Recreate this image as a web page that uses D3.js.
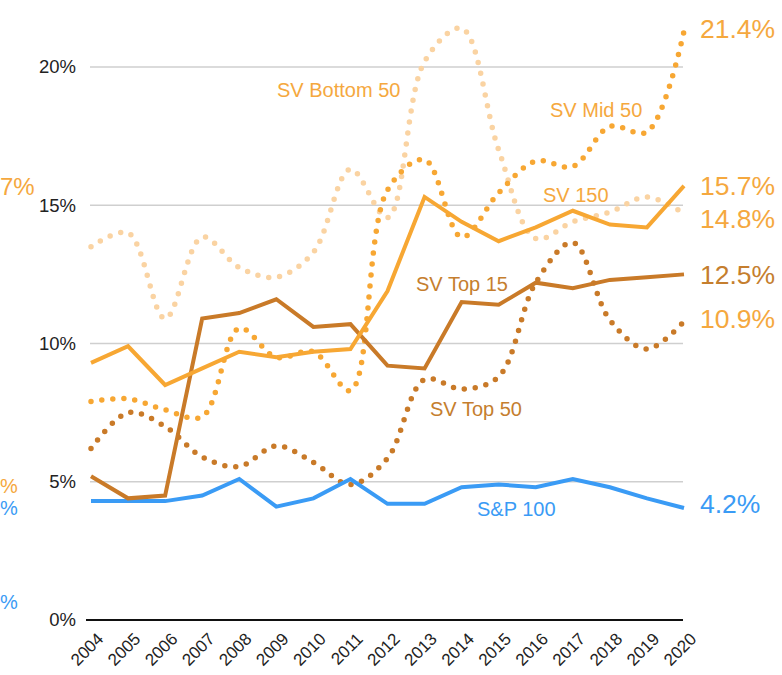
<!DOCTYPE html>
<html>
<head>
<meta charset="utf-8">
<script src="https://cdn.jsdelivr.net/npm/d3@7"></script>
<style>
  html, body { margin: 0; padding: 0; background: #fff; }
  svg { display: block; font-family: "Liberation Sans", Arial, Helvetica, sans-serif; }
</style>
</head>
<body>
<svg id="chart" width="782" height="675"></svg>
<script>
// ---------- data ----------
const years = [2004,2005,2006,2007,2008,2009,2010,2011,2012,2013,2014,2015,2016,2017,2018,2019,2020];
const sp100      = [4.3,4.3,4.3,4.5,5.1,4.1,4.4,5.1,4.2,4.2,4.8,4.9,4.8,5.1,4.8,4.4,4.05];
const sv150      = [9.3,9.9,8.5,9.1,9.7,9.5,9.7,9.8,11.9,15.3,14.4,13.7,14.2,14.8,14.3,14.2,15.7];
const svTop15    = [5.2,4.4,4.5,10.9,11.1,11.6,10.6,10.7,9.2,9.1,11.5,11.4,12.2,12.0,12.3,12.4,12.5];
const svTop50    = [6.2,7.5,7.0,5.9,5.55,6.3,5.7,4.9,5.85,8.7,8.35,8.8,12.2,13.65,10.85,9.8,10.8];
const svMid50    = [7.9,8.0,7.6,7.35,10.55,9.5,9.7,8.3,15.55,16.65,13.85,15.45,16.6,16.4,17.85,17.65,21.3];
const svBottom50 = [13.5,14.0,10.9,13.85,12.75,12.4,13.3,16.3,14.55,20.2,21.4,17.0,13.8,14.4,14.75,15.3,14.7];
const yTicks = [0,5,10,15,20];
const yTickLabels = ["0%","5%","10%","15%","20%"];
const endLabels = ["21.4%","15.7%","14.8%","12.5%","10.9%","4.2%"];
const endLabelValues = [21.4,15.7,14.8,12.5,10.9,4.2];
const seriesNames = ["SV Bottom 50","SV Mid 50","SV 150","SV Top 15","SV Top 50","S&P 100"];

// ---------- styles ----------
const C_LIGHT = "#FAD3A2";
const C_ORANGE = "#F7A733";
const C_DARK = "#C97A28";
const C_BLUE = "#3A9BF5";
const T_ORANGE = "#F5A83E";
const T_DARK = "#C57E2E";

const svg = d3.select("#chart");
const x = d3.scalePoint().domain(years).range([91, 684]);
const y = d3.scaleLinear().domain([0, 20]).range([620, 67]);

// gridlines
svg.append("g").selectAll("line").data(yTicks.filter(d => d > 0)).join("line")
  .attr("x1", 90).attr("x2", 683)
  .attr("y1", d => y(d)).attr("y2", d => y(d))
  .attr("stroke", "#cfcfcf").attr("stroke-width", 1.5);

// baseline
svg.append("line").attr("x1", 86).attr("x2", 683).attr("y1", y(0)).attr("y2", y(0))
  .attr("stroke", "#111").attr("stroke-width", 2);

// y axis labels
const yAxis = d3.axisLeft(y).tickValues(yTicks).tickFormat((d, i) => yTickLabels[i]).tickSize(0).tickPadding(0);
const yg = svg.append("g").attr("transform", "translate(76,0)").call(yAxis);
yg.select(".domain").remove();
yg.selectAll("text").attr("font-size", 18.5).attr("fill", "#222").attr("font-family", "Liberation Sans, Arial, sans-serif");

// x axis labels
const xAxis = d3.axisBottom(x).tickSize(0).tickPadding(0);
const xg = svg.append("g").attr("transform", "translate(0,620)").call(xAxis);
xg.select(".domain").remove();
xg.selectAll("text")
  .attr("font-size", 17).attr("fill", "#222").attr("font-family", "Liberation Sans, Arial, sans-serif")
  .attr("text-anchor", "end")
  .attr("dy", 0)
  .attr("transform", "translate(13,20) rotate(-45)");

// lines
const straight = d3.line().x((d, i) => x(years[i])).y(d => y(d));
const smooth = d3.line().x((d, i) => x(years[i])).y(d => y(d)).curve(d3.curveCatmullRom.alpha(0.5));

function dotted(data, color) {
  svg.append("path").attr("d", smooth(data)).attr("fill", "none")
    .attr("stroke", color).attr("stroke-width", 5.5)
    .attr("stroke-linecap", "round").attr("stroke-dasharray", "0 11");
}
function solid(data, color) {
  svg.append("path").attr("d", straight(data)).attr("fill", "none")
    .attr("stroke", color).attr("stroke-width", 4)
    .attr("stroke-linejoin", "miter").attr("stroke-linecap", "butt");
}
dotted(svBottom50, C_LIGHT);
dotted(svMid50, C_ORANGE);
dotted(svTop50, C_DARK);
solid(sp100, C_BLUE);
solid(svTop15, C_DARK);
solid(sv150, C_ORANGE);

// series labels
const seriesLabelPos = [[277, 97], [550, 117], [543, 202], [416, 291], [430, 416], [477, 516]];
const seriesLabelColors = [T_ORANGE, T_ORANGE, T_ORANGE, T_DARK, T_DARK, C_BLUE];
svg.append("g").selectAll("text").data(seriesNames).join("text")
  .attr("x", (d, i) => seriesLabelPos[i][0]).attr("y", (d, i) => seriesLabelPos[i][1])
  .attr("font-size", 20).attr("fill", (d, i) => seriesLabelColors[i])
  .text(d => d);

// end labels with simple collision avoidance
const endColors = [T_ORANGE, T_ORANGE, T_ORANGE, T_DARK, T_ORANGE, C_BLUE];
let endY = endLabelValues.map(v => y(v));
for (let i = 1; i < endY.length; i++) if (endY[i] - endY[i - 1] < 33) endY[i] = endY[i - 1] + 33;
svg.append("g").selectAll("text").data(endLabels).join("text")
  .attr("x", 700).attr("y", (d, i) => endY[i]).attr("dy", "0.36em")
  .attr("font-size", 26.5).attr("fill", (d, i) => endColors[i])
  .text(d => d);

// start labels (cut off at the left edge in the reference)
const startFragments = ["7%", "%", "%", "%"];
const startFragY = [186, 486, 508, 602];
const startFragColors = [T_ORANGE, T_ORANGE, C_BLUE, C_BLUE];
svg.append("g").selectAll("text").data(startFragments).join("text")
  .attr("x", 0).attr("y", (d, i) => startFragY[i]).attr("dy", "0.36em")
  .attr("text-anchor", "start").attr("font-size", (d, i) => i === 0 ? 24 : 20)
  .attr("fill", (d, i) => startFragColors[i])
  .text(d => d);
</script>
</body>
</html>
